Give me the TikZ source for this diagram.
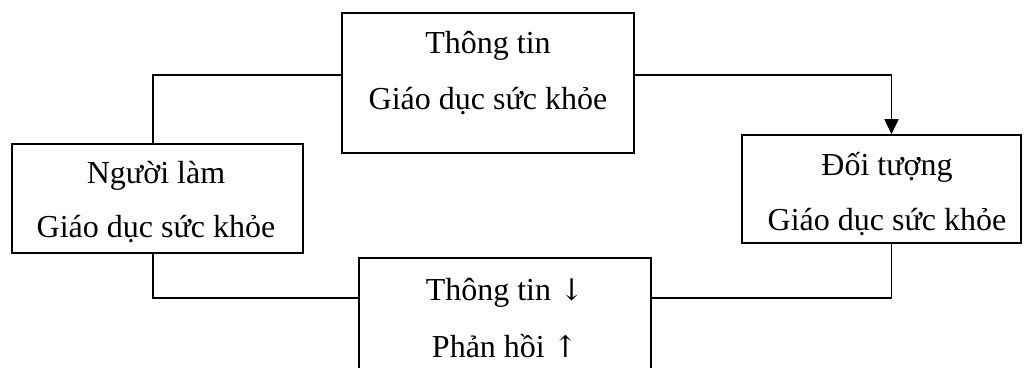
\documentclass[tikz,border=0pt]{standalone}
\usepackage{fontspec}
\setmainfont{Liberation Serif}
\newfontfamily\arrfont{DejaVu Serif}
\usetikzlibrary{arrows.meta}
\newcommand{\myarr}[1]{{\arrfont\fontsize{30}{40}\selectfont #1}}
\begin{document}
\begin{tikzpicture}[x=1pt,y=-1pt,
  box/.style={draw, line width=1.6pt, inner sep=0pt, minimum width=#1},
  lbl/.style={anchor=base, inner sep=0pt, font=\fontsize{32}{40}\selectfont},
  conn/.style={line width=1.6pt}]
\clip (0,0) rectangle (1024,367);
\fill[white] (0,0) rectangle (1024,367);
% boxes
\node[box=292pt, minimum height=140pt] (top) at (488,83) {};
\node[box=291pt, minimum height=109pt] (lft) at (157.5,198.5) {};
\node[box=279pt, minimum height=108pt] (rgt) at (881.5,189) {};
\node[box=292pt, minimum height=122pt] (bot) at (505,319) {};
% texts
\node[lbl] (t1) at (488,53) {Thông tin};
\node[lbl] (t2) at (488,109) {Giáo dục sức khỏe};
\node[lbl] (l1) at (156,183) {Người làm};
\node[lbl] (l2) at (156,237) {Giáo dục sức khỏe};
\node[lbl] (r1) at (887,175) {Đối tượng};
\node[lbl] (r2) at (887,230) {Giáo dục sức khỏe};
\node[lbl] (b1) at (505,300) {Thông tin \myarr{↓}};
\node[lbl] (b2) at (505,357) {Phản hồi \myarr{↑}};
% connectors
\draw[conn] ([yshift=8pt]top.west) -| ([xshift=-4.5pt]lft.north);
\draw[conn, -{Triangle[width=14pt,length=15pt]}] ([yshift=8pt]top.east) -| ([xshift=10pt]rgt.north);
\draw[conn] ([xshift=-4.5pt]lft.south) |- ([yshift=21pt]bot.west);
\draw[conn] ([yshift=21pt]bot.east) -| ([xshift=10pt]rgt.south);
\end{tikzpicture}
\end{document}
